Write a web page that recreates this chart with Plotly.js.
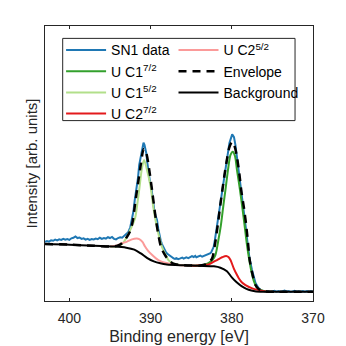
<!DOCTYPE html>
<html>
<head>
<meta charset="utf-8">
<script src="https://cdn.plot.ly/plotly-3.0.1.min.js"></script>
<style>html,body{margin:0;padding:0;background:#fff;}#chart{width:346px;height:346px;}</style>
</head>
<body>
<div id="chart"></div>
<script>
// Measured data (binding energy in eV, intensity in arb. units)
var dataE = [403.00,402.75,402.50,402.25,402.00,401.75,401.50,401.25,401.00,400.75,400.50,400.25,400.00,399.75,399.50,399.25,399.00,398.75,398.50,398.25,398.00,397.75,397.50,397.25,397.00,396.75,396.50,396.25,396.00,395.75,395.50,395.25,395.00,394.75,394.50,394.25,394.00,393.75,393.50,393.25,393.00,
392.75,392.50,392.30,392.10,391.95,391.80,391.68,391.55,391.40,391.25,391.15,391.00,390.87,390.75,390.66,390.53,390.40,390.23,390.08,389.92,389.75,389.55,389.38,389.21,389.05,388.93,388.75,388.60,388.45,388.31,388.15,387.98,387.80,387.57,387.35,387.17,
387.00,386.83,386.60,386.34,386.10,385.93,385.75,385.60,385.35,385.10,384.90,384.70,384.50,384.36,384.10,383.87,383.65,383.46,383.25,383.04,382.85,382.63,382.50,382.39,382.23,
382.08,381.81,381.52,381.19,380.90,380.57,380.29,379.95,379.73,379.55,379.34,379.05,378.81,378.50,378.31,378.06,377.82,377.51,377.08,376.71,376.34,375.84,
375.50,375.25,375.00,374.75,374.50,374.25,374.00,373.75,373.50,373.25,373.00,372.75,372.50,372.25,372.00,371.75,371.50,371.25,371.00,370.75,370.50,370.25,370.00];
var dataY = [21.5,21.8,21.6,22.1,21.9,22.3,22.0,22.4,22.2,22.6,22.3,22.5,22.2,22.8,23.0,23.5,22.9,23.1,22.6,22.8,22.3,22.6,22.2,22.5,22.4,22.7,22.5,23.0,22.6,22.9,22.7,23.2,22.9,23.3,22.6,22.4,22.9,23.2,23.0,23.6,24.2,
25.0,26.8,29.5,32.8,36.7,39.5,41.6,44.8,49.5,52.0,53.8,56.4,57.6,56.8,55.6,53.8,50.2,45.8,43.5,41.6,37.5,33.1,31.0,29.5,26.2,24.0,22.0,20.7,19.6,18.9,18.0,17.3,16.8,16.4,15.9,15.5,
15.3,15.6,15.2,15.5,15.8,15.4,15.7,15.9,15.6,16.0,16.3,16.0,16.4,15.9,16.2,16.5,16.1,16.3,16.8,16.9,17.0,17.4,17.9,18.7,19.7,
22.2,27.6,33.8,39.7,45.8,51.9,57.5,60.6,59.6,56.7,51.9,45.8,39.7,33.8,27.6,21.1,15.6,11.3,6.5,4.7,3.8,3.5,
3.6,3.3,3.5,3.7,3.4,3.6,3.3,3.5,3.8,3.4,3.6,3.3,3.5,3.7,3.4,3.5,3.3,3.6,3.4,3.6,3.3,3.5,3.4];

// U C1 7/2 component (on background)
var c1aE = [385,384.5,383.5,382.88,382.39,382.02,381.65,381.34,381.03,380.78,380.47,380.16,379.88,379.61,379.36,379.05,378.74,378.43,378.13,377.88,377.57,377.29,376.96,376.47,375.84,375];
var c1aY = [12.9,12.8,13.1,13.8,14.9,16.7,22.2,27.6,34.9,40.4,47.6,53.1,54.3,52.7,47.6,41.6,34.9,27.6,20.4,15.5,10.5,7.3,5.1,4.0,3.5,3.4];

// U C1 5/2 component
var c1bE = [395,394.7,393.95,393.4,392.9,392.4,391.9,391.6,391.35,391.1,390.8,390.5,390.0,389.7,389.4,389.0,388.6,388.2,387.8,387.3,386.7,385.7];
var c1bY = [19.8,19.8,20.0,21.1,23.4,26.5,30.2,36.0,41.6,47.6,51.3,48.4,41.6,34.9,29.5,24.0,19.7,17.1,14.9,13.8,13.3,13.0];

// U C2 7/2 component
var c2aE = [385,384.5,383.66,382.84,382.26,381.81,381.19,380.69,380.41,380.16,379.76,379.42,379.14,378.74,378.31,377.48,376.71,375.84,375];
var c2aY = [12.9,12.8,13.0,13.3,14.2,14.9,15.9,16.4,16.0,14.9,11.9,9.8,8.3,6.7,5.8,4.6,4.0,3.5,3.4];

// U C2 5/2 component
var c2bE = [395,394.15,393.6,392.9,392.3,391.7,391.4,391.0,390.7,390.3,389.8,389.3,388.8,388.2,387.6,386.3,385];
var c2bY = [19.8,20.2,20.9,21.6,22.4,22.7,22.5,21.5,19.9,18.2,16.7,15.4,14.5,13.9,13.5,13.0,12.9];

// Envelope
var envE = [403,400,397,394.7,393.99,393.53,393.0,392.51,392.2,391.9,391.56,391.21,390.84,390.53,390.16,389.79,389.34,388.99,388.72,388.31,387.78,387.2,386.34,385,383.87,383.25,382.76,382.42,382.08,381.73,381.46,381.19,380.9,380.57,380.29,379.95,379.67,379.34,379.05,378.81,378.5,378.23,378.0,377.82,377.51,377.08,376.71,376.21,375.47,370];
var envY = [20.7,20.5,20.1,19.8,20.2,21.0,22.9,25.5,29.0,35.5,42.5,49.5,55.3,53.8,47.6,39.6,29.5,23.3,19.7,17.1,14.9,13.6,13.1,12.9,12.9,13.3,14.2,15.5,20.4,27.6,33.8,39.7,45.8,51.9,56.0,57.9,56.4,51.9,45.8,39.7,33.8,27.6,21.1,15.5,10.5,5.8,4.4,3.6,3.4,3.4];

// Background
var bgE = [403,400,397,394.5,393,392,391.2,390.4,389.6,388.8,388,386,384,382.2,381.4,380.6,380,379.4,378.8,378.2,377.6,377,375,370];
var bgY = [20.7,20.5,20.1,19.8,19.4,18.7,17.3,15.6,14.4,13.7,13.3,13.0,12.8,12.6,12.1,10.8,8.6,6.8,5.4,4.4,3.8,3.5,3.4,3.4];

var xTicks = [400, 390, 380, 370];

var sp = {shape:'spline', smoothing:0.8};
var traces = [
  {x:dataE, y:dataY, name:'SN1 data', mode:'lines', line:{color:'#1f78b4', width:2}, legend:'legend', legendrank:1},
  {x:c1aE, y:c1aY, name:'U C1<sup>7/2</sup>', mode:'lines', line:Object.assign({color:'#33a02c', width:2}, sp), legend:'legend', legendrank:2},
  {x:c1bE, y:c1bY, name:'U C1<sup>5/2</sup>', mode:'lines', line:Object.assign({color:'#b2df8a', width:2}, sp), legend:'legend', legendrank:3},
  {x:c2aE, y:c2aY, name:'U C2<sup>7/2</sup>', mode:'lines', line:Object.assign({color:'#e31a1c', width:2}, sp), legend:'legend', legendrank:4},
  {x:c2bE, y:c2bY, name:'U C2<sup>5/2</sup>', mode:'lines', line:Object.assign({color:'#fb9a99', width:2}, sp), legend:'legend2', legendrank:1},
  {x:envE, y:envY, name:'Envelope', mode:'lines', line:Object.assign({color:'#000000', width:2.5, dash:'8px,6px'}, sp), legend:'legend2', legendrank:2},
  {x:bgE, y:bgY, name:'Background', mode:'lines', line:Object.assign({color:'#000000', width:2}, sp), legend:'legend2', legendrank:3}
];

var fontFam = 'Liberation Sans, Arial, sans-serif';
var legCommon = {orientation:'v', yanchor:'top', xanchor:'left', bgcolor:'rgba(0,0,0,0)', borderwidth:0,
  itemwidth:40, font:{size:14, color:'#000'}, tracegroupgap:0, traceorder:'normal'};
var layout = {
  width:346, height:346,
  margin:{l:45, r:33, t:26, b:45, pad:0},
  paper_bgcolor:'#ffffff', plot_bgcolor:'#ffffff',
  font:{family:fontFam, color:'#262626', size:13},
  showlegend:true,
  legend:Object.assign({}, legCommon, {x:0.060, y:0.9695}),
  legend2:Object.assign({}, legCommon, {x:0.4795, y:0.9695}),
  shapes:[{type:'rect', xref:'paper', yref:'paper', x0:0.066, x1:0.933, y0:0.656, y1:0.955,
    line:{color:'#262626', width:1}, fillcolor:'#ffffff', layer:'below'}],
  xaxis:{range:[403,370], tickvals:xTicks, ticktext:xTicks.map(String), ticks:'inside', ticklen:3, tickcolor:'#262626',
    showline:true, linecolor:'#262626', linewidth:1, mirror:'ticks', showgrid:false, zeroline:false,
    tickfont:{size:14, color:'#262626'}, ticklabelstandoff:4,
    title:{text:'Binding energy [eV]', font:{size:16, color:'#262626'}, standoff:6}},
  yaxis:{range:[0,100], showticklabels:false, ticks:'', showline:true, linecolor:'#262626', linewidth:1, mirror:true,
    showgrid:false, zeroline:false,
    title:{text:'Intensity [arb. units]', font:{size:15, color:'#262626'}, standoff:2}}
};
Plotly.newPlot('chart', traces, layout, {staticPlot:true, displayModeBar:false});
</script>
</body>
</html>
